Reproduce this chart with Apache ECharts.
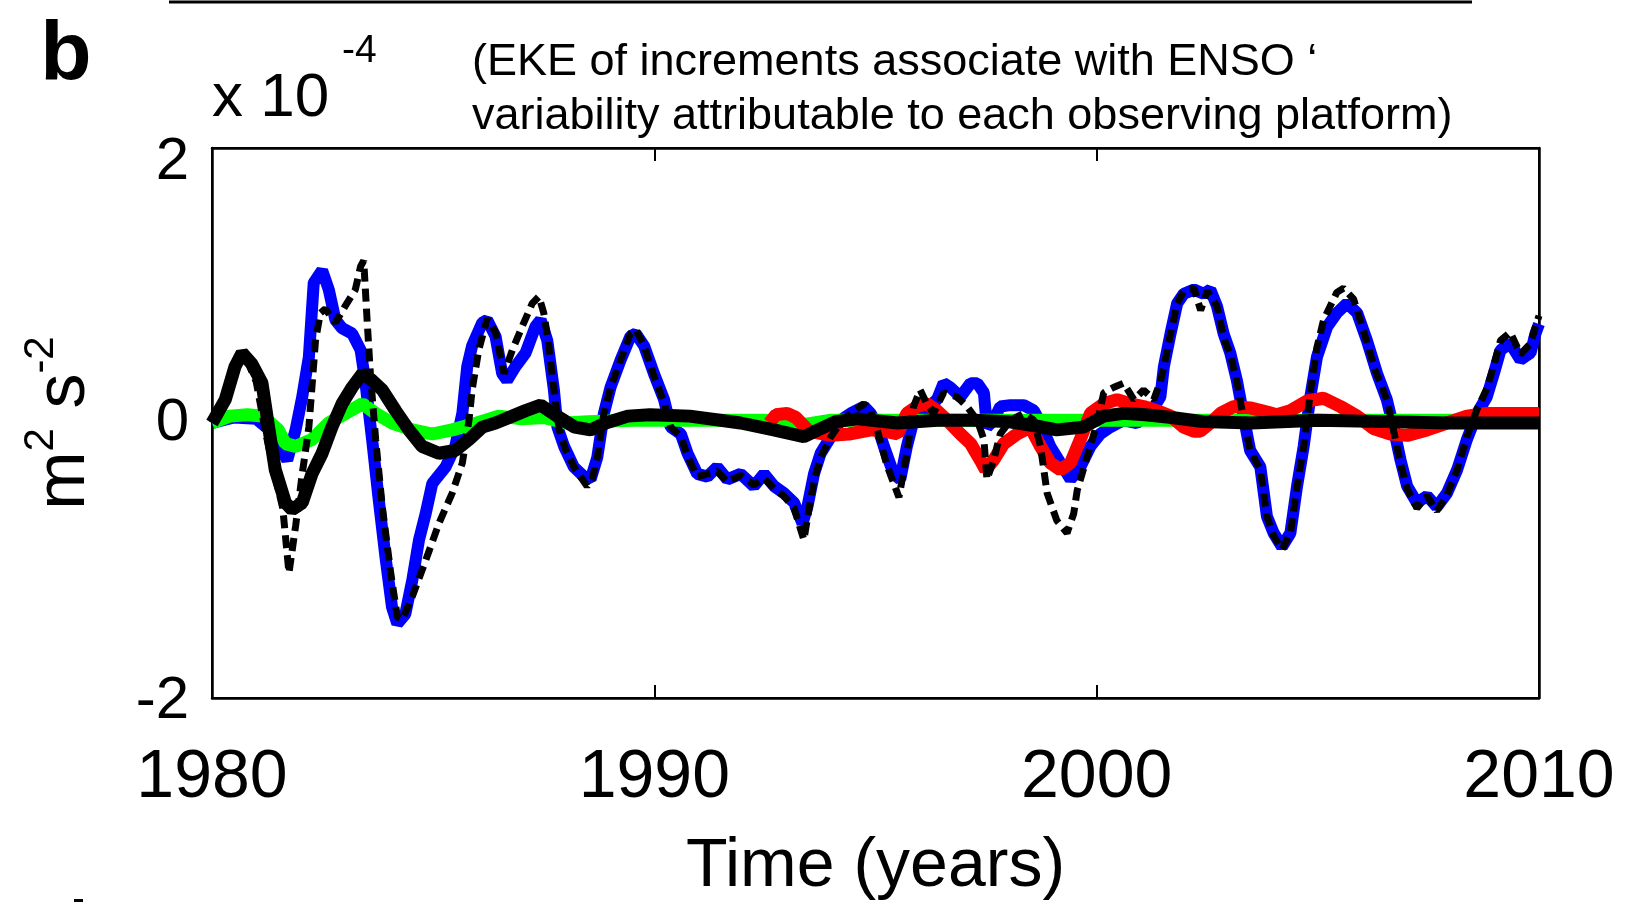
<!DOCTYPE html>
<html>
<head>
<meta charset="utf-8">
<script src="https://cdn.jsdelivr.net/npm/echarts@6/dist/echarts.min.js"></script>
<style>
  html, body { margin: 0; padding: 0; background: #fff; }
  #chart { width: 1626px; height: 906px; }
</style>
</head>
<body>
<div id="chart"></div>
<script>
// [year, value x 1e-4]
const blueLine = [[1980.0, 0.0], [1980.5, 0.04], [1981.0, 0.03], [1981.3, -0.05], [1981.5, -0.15], [1981.7, -0.27], [1981.89, -0.05], [1982.04, 0.19], [1982.19, 0.48], [1982.3, 1.02], [1982.49, 1.11], [1982.64, 0.97], [1982.79, 0.75], [1982.94, 0.69], [1983.17, 0.65], [1983.36, 0.53], [1983.47, 0.29], [1983.62, -0.12], [1983.77, -0.56], [1983.92, -0.97], [1984.07, -1.34], [1984.19, -1.46], [1984.37, -1.39], [1984.53, -1.14], [1984.68, -0.85], [1984.83, -0.66], [1984.98, -0.44], [1985.28, -0.32], [1985.5, -0.17], [1985.66, 0.07], [1985.77, 0.41], [1985.88, 0.56], [1986.11, 0.73], [1986.22, 0.75], [1986.41, 0.63], [1986.56, 0.36], [1986.67, 0.31], [1986.86, 0.41], [1987.09, 0.51], [1987.31, 0.70], [1987.43, 0.75], [1987.58, 0.60], [1987.73, 0.24], [1987.81, -0.03], [1987.96, -0.17], [1988.18, -0.32], [1988.41, -0.39], [1988.56, -0.41], [1988.71, -0.25], [1988.86, 0.07], [1989.01, 0.26], [1989.24, 0.46], [1989.46, 0.63], [1989.58, 0.65], [1989.77, 0.56], [1989.99, 0.36], [1990.22, 0.17], [1990.37, -0.03], [1990.6, -0.08], [1990.75, -0.22], [1990.97, -0.37], [1991.2, -0.39], [1991.42, -0.32], [1991.65, -0.41], [1991.95, -0.37], [1992.25, -0.46], [1992.48, -0.37], [1992.71, -0.46], [1992.93, -0.51], [1993.16, -0.58], [1993.35, -0.73], [1993.46, -0.61], [1993.61, -0.37], [1993.76, -0.22], [1993.99, -0.10], [1994.21, 0.02], [1994.44, 0.07], [1994.74, 0.12], [1994.89, 0.07], [1995.04, -0.02], [1995.19, -0.17], [1995.41, -0.37], [1995.56, -0.41], [1995.71, -0.17], [1995.86, 0.02], [1996.09, 0.09], [1996.39, 0.17], [1996.54, 0.29], [1996.69, 0.26], [1996.92, 0.19], [1997.15, 0.29], [1997.3, 0.29], [1997.45, 0.22], [1997.52, -0.03], [1997.67, 0.02], [1997.82, 0.12], [1998.05, 0.13], [1998.35, 0.13], [1998.58, 0.09], [1998.73, 0.0], [1998.95, -0.17], [1999.18, -0.29], [1999.41, -0.41], [1999.63, -0.32], [1999.86, -0.17], [2000.08, -0.08], [2000.31, -0.03], [2000.61, 0.02], [2000.91, 0.0], [2001.21, 0.07], [2001.44, 0.19], [2001.52, 0.41], [2001.67, 0.65], [2001.82, 0.87], [2001.97, 0.94], [2002.2, 0.97], [2002.42, 0.94], [2002.57, 0.97], [2002.72, 0.85], [2002.87, 0.65], [2003.02, 0.51], [2003.17, 0.31], [2003.32, 0.05], [2003.47, -0.20], [2003.7, -0.32], [2003.85, -0.68], [2004.0, -0.80], [2004.19, -0.90], [2004.38, -0.80], [2004.53, -0.46], [2004.68, -0.17], [2004.83, 0.19], [2004.98, 0.48], [2005.21, 0.70], [2005.43, 0.80], [2005.66, 0.87], [2005.89, 0.80], [2006.11, 0.60], [2006.34, 0.36], [2006.56, 0.17], [2006.71, -0.03], [2006.87, -0.27], [2007.02, -0.46], [2007.24, -0.58], [2007.47, -0.53], [2007.69, -0.61], [2007.92, -0.51], [2008.15, -0.34], [2008.37, -0.12], [2008.6, 0.07], [2008.82, 0.19], [2008.98, 0.36], [2009.13, 0.53], [2009.35, 0.58], [2009.58, 0.46], [2009.81, 0.51], [2009.92, 0.65], [2010.0, 0.72]];

const dashedLine = [[1980.0, 0.0], [1980.3, 0.18], [1980.6, 0.48], [1980.8, 0.45], [1981.0, 0.3], [1981.2, -0.05], [1981.4, -0.35], [1981.6, -0.62], [1981.74, -1.09], [1981.89, -0.75], [1982.04, -0.37], [1982.19, -0.03], [1982.34, 0.60], [1982.45, 0.80], [1982.56, 0.83], [1982.79, 0.73], [1983.01, 0.85], [1983.24, 0.97], [1983.36, 1.14], [1983.43, 1.18], [1983.51, 0.73], [1983.58, 0.36], [1983.7, -0.12], [1983.85, -0.61], [1984.04, -1.09], [1984.19, -1.41], [1984.3, -1.43], [1984.53, -1.26], [1984.83, -1.0], [1985.13, -0.73], [1985.43, -0.51], [1985.66, -0.29], [1985.81, 0.02], [1985.88, 0.24], [1986.03, 0.53], [1986.22, 0.76], [1986.41, 0.66], [1986.6, 0.36], [1986.79, 0.53], [1987.01, 0.70], [1987.24, 0.87], [1987.39, 0.92], [1987.5, 0.80], [1987.6, 0.60], [1987.73, 0.24], [1987.85, -0.05], [1988.0, -0.2], [1988.2, -0.33], [1988.48, -0.46], [1988.6, -0.40], [1988.71, -0.25], [1988.86, 0.07], [1989.01, 0.26], [1989.24, 0.46], [1989.46, 0.65], [1989.58, 0.68], [1989.77, 0.56], [1989.99, 0.34], [1990.22, 0.15], [1990.37, -0.03], [1990.6, -0.10], [1990.75, -0.24], [1990.97, -0.39], [1991.2, -0.37], [1991.42, -0.35], [1991.65, -0.43], [1991.95, -0.38], [1992.25, -0.45], [1992.48, -0.40], [1992.71, -0.48], [1992.93, -0.53], [1993.16, -0.62], [1993.38, -0.85], [1993.5, -0.62], [1993.61, -0.42], [1993.76, -0.25], [1993.99, -0.10], [1994.21, 0.0], [1994.44, 0.07], [1994.74, 0.14], [1994.89, 0.09], [1995.04, -0.05], [1995.25, -0.30], [1995.53, -0.54], [1995.71, -0.22], [1995.86, 0.12], [1996.01, 0.24], [1996.16, 0.14], [1996.31, 0.07], [1996.54, 0.22], [1996.84, 0.19], [1997.07, 0.12], [1997.3, 0.02], [1997.45, -0.12], [1997.52, -0.41], [1997.67, -0.27], [1997.82, -0.08], [1998.05, 0.02], [1998.35, 0.07], [1998.58, 0.02], [1998.73, -0.17], [1998.88, -0.51], [1999.1, -0.71], [1999.33, -0.80], [1999.48, -0.66], [1999.56, -0.49], [1999.78, -0.25], [2000.01, 0.0], [2000.16, 0.22], [2000.39, 0.26], [2000.61, 0.29], [2000.84, 0.17], [2001.06, 0.24], [2001.29, 0.17], [2001.44, 0.30], [2001.52, 0.41], [2001.67, 0.65], [2001.82, 0.87], [2001.97, 0.96], [2002.2, 0.98], [2002.35, 0.82], [2002.5, 0.96], [2002.72, 0.85], [2002.87, 0.62], [2003.02, 0.50], [2003.17, 0.30], [2003.32, 0.03], [2003.47, -0.2], [2003.7, -0.34], [2003.85, -0.68], [2004.0, -0.82], [2004.19, -0.92], [2004.38, -0.80], [2004.53, -0.46], [2004.68, -0.17], [2004.83, 0.22], [2004.98, 0.55], [2005.13, 0.75], [2005.43, 0.95], [2005.58, 0.98], [2005.81, 0.90], [2006.05, 0.65], [2006.3, 0.38], [2006.56, 0.17], [2006.71, -0.05], [2006.87, -0.30], [2007.02, -0.48], [2007.24, -0.62], [2007.47, -0.53], [2007.69, -0.64], [2007.92, -0.52], [2008.15, -0.34], [2008.37, -0.10], [2008.6, 0.10], [2008.82, 0.25], [2008.98, 0.42], [2009.13, 0.60], [2009.35, 0.66], [2009.58, 0.50], [2009.81, 0.58], [2009.92, 0.70], [2010.0, 0.78]];

const blackLine = [[1980.0, 0.0], [1980.3, 0.17], [1980.52, 0.41], [1980.68, 0.51], [1980.9, 0.43], [1981.13, 0.29], [1981.28, -0.03], [1981.43, -0.34], [1981.66, -0.58], [1981.81, -0.63], [1982.04, -0.58], [1982.26, -0.37], [1982.49, -0.22], [1982.71, -0.03], [1982.94, 0.14], [1983.17, 0.26], [1983.4, 0.36], [1983.62, 0.31], [1983.85, 0.24], [1984.15, 0.09], [1984.45, -0.05], [1984.75, -0.17], [1985.13, -0.22], [1985.5, -0.20], [1985.81, -0.12], [1986.11, -0.03], [1986.41, 0.0], [1986.79, 0.05], [1987.09, 0.09], [1987.43, 0.13], [1987.8, 0.05], [1988.2, -0.03], [1988.56, -0.05], [1988.9, 0.0], [1989.4, 0.05], [1989.9, 0.06], [1990.8, 0.05], [1991.95, 0.0], [1992.7, -0.05], [1993.38, -0.10], [1993.7, -0.05], [1994.1, 0.01], [1994.6, 0.03], [1995.5, 0.0], [1996.4, 0.02], [1997.2, 0.02], [1998.0, 0.01], [1998.6, -0.02], [1999.1, -0.05], [1999.7, -0.03], [2000.16, 0.05], [2000.6, 0.07], [2001.1, 0.06], [2001.7, 0.04], [2002.4, 0.01], [2003.5, 0.0], [2005.0, 0.02], [2006.5, 0.01], [2008.0, 0.0], [2010.0, 0.0]];

const greenLine = [[1980.0, 0.0], [1980.4, 0.05], [1980.8, 0.06], [1981.15, 0.05], [1981.5, -0.05], [1981.66, -0.15], [1981.89, -0.17], [1982.26, -0.12], [1982.64, 0.0], [1983.02, 0.07], [1983.4, 0.14], [1983.7, 0.07], [1984.07, 0.0], [1984.53, -0.05], [1984.98, -0.08], [1985.43, -0.05], [1985.88, -0.01], [1986.48, 0.05], [1987.01, 0.03], [1987.5, 0.04], [1988.0, 0.0], [1988.5, 0.01], [1989.5, 0.02], [1991.0, 0.02], [1992.5, 0.02], [1993.4, -0.01], [1994.0, 0.02], [1996.0, 0.02], [1998.0, 0.02], [2000.0, 0.02], [2002.0, 0.02], [2004.0, 0.02], [2006.0, 0.02], [2008.0, 0.02], [2010.0, 0.02]];

const redLine = [[1992.6, 0.0], [1992.75, 0.06], [1993.0, 0.07], [1993.2, 0.04], [1993.5, -0.06], [1994.0, -0.09], [1994.4, -0.08], [1994.9, -0.05], [1995.2, -0.06], [1995.5, -0.08], [1995.71, 0.07], [1995.94, 0.12], [1996.16, 0.14], [1996.39, 0.09], [1996.62, 0.02], [1996.92, -0.08], [1997.15, -0.15], [1997.37, -0.27], [1997.49, -0.34], [1997.67, -0.27], [1997.9, -0.15], [1998.2, -0.08], [1998.5, -0.03], [1998.73, -0.17], [1998.95, -0.29], [1999.18, -0.34], [1999.41, -0.29], [1999.63, -0.12], [1999.86, 0.07], [2000.16, 0.14], [2000.46, 0.17], [2000.76, 0.14], [2001.06, 0.12], [2001.36, 0.09], [2001.67, 0.05], [2001.97, -0.03], [2002.2, -0.06], [2002.34, -0.06], [2002.57, 0.0], [2002.8, 0.07], [2003.1, 0.12], [2003.47, 0.11], [2003.85, 0.08], [2004.07, 0.06], [2004.38, 0.09], [2004.76, 0.16], [2005.13, 0.18], [2005.51, 0.12], [2005.89, 0.05], [2006.26, -0.04], [2006.64, -0.08], [2007.02, -0.09], [2007.47, -0.05], [2007.92, 0.0], [2008.37, 0.05], [2008.82, 0.07], [2009.28, 0.07], [2010.0, 0.07]];

const yearTicks = [1980, 2010, 10];
const valueTicks = [-2, 2, 2];

const titleLines = [
  "(EKE of increments associate with ENSO \u2018",
  "variability attributable to each observing platform)"
];

const myChart = echarts.init(document.getElementById("chart"));

const helv = "'Liberation Sans', Arial, sans-serif";
const titleFont = "'Liberation Sans', sans-serif";

const makeLine = (name, data, color, width, dash) => ({
  name: name,
  type: "line",
  data: data,
  showSymbol: false,
  symbol: "none",
  animation: false,
  lineStyle: { color: color, width: width, type: dash || "solid" },
});

const option = {
  animation: false,
  backgroundColor: "#fff",
  grid: {
    left: 212,
    right: 87,
    top: 148,
    bottom: 208,
    show: true,
    borderColor: "#000",
    borderWidth: 2,
  },
  xAxis: [
    {
      type: "value",
      min: yearTicks[0],
      max: yearTicks[1],
      interval: yearTicks[2],
      axisLine: { show: true, onZero: false, lineStyle: { color: "#000", width: 2.5 } },
      axisTick: { show: true, inside: true, length: 13, lineStyle: { color: "#000", width: 2 } },
      axisLabel: { color: "#000", fontSize: 68, fontFamily: helv, margin: 46, formatter: (v) => String(v) },
      splitLine: { show: false },
      name: "Time (years)",
      nameLocation: "middle",
      nameGap: 135,
      nameTextStyle: { color: "#000", fontSize: 68, fontFamily: helv },
    },
    {
      type: "value",
      position: "top",
      min: yearTicks[0],
      max: yearTicks[1],
      interval: yearTicks[2],
      axisLine: { show: true, onZero: false, lineStyle: { color: "#000", width: 2.5 } },
      axisTick: { show: true, inside: true, length: 13, lineStyle: { color: "#000", width: 2 } },
      axisLabel: { show: false },
      splitLine: { show: false },
    },
  ],
  yAxis: [
    {
      type: "value",
      min: valueTicks[0],
      max: valueTicks[1],
      interval: valueTicks[2],
      axisLine: { show: true, onZero: false, lineStyle: { color: "#000", width: 2.5 } },
      axisTick: { show: true, inside: true, length: 13, lineStyle: { color: "#000", width: 2 } },
      axisLabel: {
        color: "#000",
        fontSize: 60,
        fontFamily: helv,
        margin: 23,
        formatter: (v) => (v === 2 ? "{hi|2}" : v === -2 ? "{lo|-2}" : String(v)),
        rich: {
          hi: { fontSize: 60, fontFamily: helv, color: "#000", padding: [28, 0, 0, 0] },
          lo: { fontSize: 60, fontFamily: helv, color: "#000", padding: [6, 0, 0, 0] },
        },
      },
      splitLine: { show: false },
      name: "{m|m}{s|2}{m| s}{s|-2}",
      nameLocation: "middle",
      nameRotate: 90,
      nameGap: 112,
      nameTextStyle: {
        rich: {
          m: { fontSize: 70, fontFamily: helv, color: "#000", lineHeight: 80, verticalAlign: "bottom" },
          s: { fontSize: 42, fontFamily: helv, color: "#000", lineHeight: 80, verticalAlign: "top" },
        },
      },
    },
    {
      type: "value",
      position: "right",
      min: valueTicks[0],
      max: valueTicks[1],
      interval: valueTicks[2],
      axisLine: { show: true, onZero: false, lineStyle: { color: "#000", width: 2.5 } },
      axisTick: { show: true, inside: true, length: 13, lineStyle: { color: "#000", width: 2 } },
      axisLabel: { show: false },
      splitLine: { show: false },
    },
  ],
  graphic: [
    { type: "line", shape: { x1: 169, y1: 2, x2: 1472, y2: 2 }, style: { stroke: "#000", lineWidth: 3 } },
    { type: "text", style: { text: "b", x: 66, y: 57, font: "bold 84px 'Liberation Sans', Arial", fill: "#000", textAlign: "center", textVerticalAlign: "middle" } },
    { type: "text", style: { text: "x 10", x: 212, y: 99, font: "62px 'Liberation Sans', Arial", fill: "#000", textVerticalAlign: "middle" } },
    { type: "text", style: { text: "-4", x: 342, y: 51, font: "39px 'Liberation Sans', Arial", fill: "#000", textVerticalAlign: "middle" } },
    { type: "text", style: { text: titleLines[0], x: 472, y: 63, font: "45px " + titleFont, fill: "#000", textVerticalAlign: "middle" } },
    { type: "text", style: { text: titleLines[1], x: 472, y: 117, font: "45px " + titleFont, fill: "#000", textVerticalAlign: "middle" } },
    { type: "rect", shape: { x: 74, y: 899, width: 9, height: 3 }, style: { fill: "#000" } },
  ],
  series: [
    makeLine("blue", blueLine, "#0000ff", 12),
    makeLine("green", greenLine, "#00ff00", 13),
    makeLine("red", redLine, "#ff0000", 13),
    makeLine("dashed", dashedLine, "#000", 7, [13, 7]),
    makeLine("black", blackLine, "#000", 13),
  ],
};

myChart.setOption(option);

window.addEventListener("resize", () => {
  myChart.resize();
});
</script>
</body>
</html>
